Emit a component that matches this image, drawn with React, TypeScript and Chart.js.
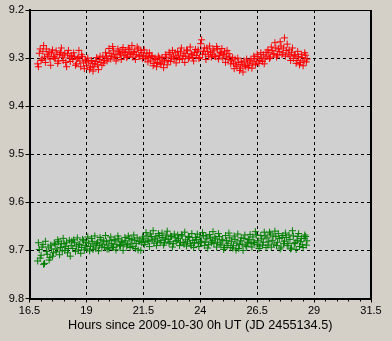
import React, { useEffect, useRef } from "react";
import { Chart, registerables } from "chart.js";

Chart.register(...registerables);

const times = [
  16.86, 16.93, 17.01, 17.09, 17.16, 17.24, 17.32, 17.40, 17.47, 17.55,
  17.63, 17.71, 17.78, 17.86, 17.94, 18.02, 18.09, 18.17, 18.25, 18.33,
  18.40, 18.48, 18.56, 18.64, 18.71, 18.79, 18.87, 18.95, 19.02, 19.10,
  19.18, 19.26, 19.33, 19.41, 19.49, 19.57, 19.64, 19.72, 19.80, 19.88,
  19.95, 20.03, 20.11, 20.19, 20.26, 20.34, 20.42, 20.50, 20.57, 20.65,
  20.73, 20.81, 20.88, 20.96, 21.04, 21.12, 21.19, 21.27, 21.35, 21.43,
  21.50, 21.58, 21.66, 21.74, 21.81, 21.89, 21.97, 22.05, 22.12, 22.20,
  22.28, 22.36, 22.43, 22.51, 22.59, 22.67, 22.74, 22.82, 22.90, 22.98,
  23.05, 23.13, 23.21, 23.29, 23.36, 23.44, 23.52, 23.60, 23.67, 23.75,
  23.83, 23.91, 23.98, 24.06, 24.14, 24.22, 24.29, 24.37, 24.45, 24.53,
  24.60, 24.68, 24.76, 24.84, 24.91, 24.99, 25.07, 25.15, 25.22, 25.30,
  25.38, 25.46, 25.53, 25.61, 25.69, 25.77, 25.84, 25.92, 26.00, 26.08,
  26.15, 26.23, 26.31, 26.39, 26.46, 26.54, 26.62, 26.70, 26.77, 26.85,
  26.93, 27.01, 27.08, 27.16, 27.24, 27.32, 27.39, 27.47, 27.55, 27.63,
  27.70, 27.78, 27.86, 27.94, 28.01, 28.09, 28.17, 28.25, 28.32, 28.40,
  28.48, 28.56, 28.63, 28.69,
];

const redMags = [
  9.312, 9.290, 9.305, 9.286, 9.298, 9.281, 9.296, 9.302, 9.289, 9.297,
  9.301, 9.292, 9.306, 9.288, 9.298, 9.294, 9.309, 9.291, 9.300, 9.295,
  9.303, 9.297, 9.312, 9.299, 9.306, 9.293, 9.310, 9.304, 9.316, 9.308,
  9.320, 9.311, 9.318, 9.307, 9.314, 9.303, 9.309, 9.298, 9.305, 9.296,
  9.301, 9.290, 9.296, 9.285, 9.293, 9.299, 9.287, 9.292, 9.283, 9.295,
  9.288, 9.296, 9.282, 9.291, 9.298, 9.286, 9.293, 9.281, 9.297, 9.289,
  9.294, 9.301, 9.290, 9.299, 9.306, 9.297, 9.311, 9.303, 9.309, 9.300,
  9.313, 9.304, 9.308, 9.298, 9.305, 9.292, 9.300, 9.296, 9.289, 9.299,
  9.294, 9.287, 9.301, 9.290, 9.296, 9.285, 9.298, 9.291, 9.299, 9.288,
  9.295, 9.283, 9.299, 9.262, 9.286, 9.292, 9.279, 9.296, 9.288, 9.293,
  9.285, 9.297, 9.281, 9.294, 9.290, 9.300, 9.287, 9.296, 9.303, 9.298,
  9.306, 9.311, 9.302, 9.317, 9.309, 9.321, 9.313, 9.306, 9.318, 9.310,
  9.315, 9.304, 9.312, 9.301, 9.308, 9.297, 9.305, 9.300, 9.293, 9.302,
  9.296, 9.288, 9.298, 9.284, 9.291, 9.279, 9.294, 9.286, 9.275, 9.289,
  9.258, 9.284, 9.292, 9.296, 9.288, 9.301, 9.293, 9.305, 9.297, 9.309,
  9.299, 9.306, 9.294, 9.302,
];

const greenMags = [
  9.722, 9.698, 9.710, 9.688, 9.727, 9.702, 9.693, 9.715, 9.697, 9.705,
  9.688, 9.697, 9.682, 9.694, 9.701, 9.686, 9.692, 9.705, 9.679, 9.690,
  9.696, 9.684, 9.691, 9.699, 9.687, 9.694, 9.680, 9.690, 9.697, 9.685,
  9.692, 9.681, 9.689, 9.695, 9.683, 9.690, 9.678, 9.687, 9.694, 9.682,
  9.689, 9.679, 9.686, 9.693, 9.680, 9.688, 9.676, 9.691, 9.683, 9.687,
  9.680, 9.688, 9.675, 9.685, 9.692, 9.679, 9.686, 9.699, 9.681, 9.684,
  9.676, 9.683, 9.670, 9.680, 9.666, 9.678, 9.685, 9.672, 9.681, 9.669,
  9.679, 9.673, 9.684, 9.668, 9.677, 9.682, 9.671, 9.686, 9.674, 9.679,
  9.675, 9.683, 9.670, 9.687, 9.678, 9.682, 9.673, 9.690, 9.679, 9.684,
  9.677, 9.685, 9.672, 9.681, 9.669, 9.683, 9.676, 9.688, 9.674, 9.680,
  9.686, 9.676, 9.683, 9.671, 9.689, 9.679, 9.694, 9.680, 9.685, 9.674,
  9.681, 9.690, 9.677, 9.685, 9.696, 9.680, 9.687, 9.675, 9.689, 9.683,
  9.678, 9.686, 9.672, 9.684, 9.668, 9.680, 9.691, 9.676, 9.683, 9.670,
  9.674, 9.682, 9.666, 9.679, 9.687, 9.671, 9.683, 9.675, 9.693, 9.669,
  9.681, 9.673, 9.686, 9.677, 9.695, 9.670, 9.684, 9.679, 9.665, 9.682,
  9.688, 9.675, 9.671, 9.680,
];

const times2 = [
  16.89, 16.97, 17.05, 17.12, 17.20, 17.28, 17.36, 17.43, 17.51, 17.59,
  17.67, 17.74, 17.82, 17.90, 17.98, 18.05, 18.13, 18.21, 18.29, 18.36,
  18.44, 18.52, 18.60, 18.67, 18.75, 18.83, 18.91, 18.98, 19.06, 19.14,
  19.22, 19.29, 19.37, 19.45, 19.53, 19.60, 19.68, 19.76, 19.84, 19.91,
  19.99, 20.07, 20.15, 20.22, 20.30, 20.38, 20.46, 20.53, 20.61, 20.69,
  20.77, 20.84, 20.92, 21.00, 21.08, 21.15, 21.23, 21.31, 21.39, 21.46,
  21.54, 21.62, 21.70, 21.77, 21.85, 21.93, 22.01, 22.08, 22.16, 22.24,
  22.32, 22.39, 22.47, 22.55, 22.63, 22.70, 22.78, 22.86, 22.94, 23.01,
  23.09, 23.17, 23.25, 23.32, 23.40, 23.48, 23.56, 23.63, 23.71, 23.79,
  23.87, 23.94, 24.02, 24.10, 24.18, 24.25, 24.33, 24.41, 24.49, 24.56,
  24.64, 24.72, 24.80, 24.87, 24.95, 25.03, 25.11, 25.18, 25.26, 25.34,
  25.42, 25.49, 25.57, 25.65, 25.73, 25.80, 25.88, 25.96, 26.04, 26.11,
  26.19, 26.27, 26.35, 26.42, 26.50, 26.58, 26.66, 26.73, 26.81, 26.89,
  26.97, 27.04, 27.12, 27.20, 27.28, 27.35, 27.43, 27.51, 27.59, 27.66,
  27.74, 27.82, 27.90, 27.97, 28.05, 28.13, 28.21, 28.28, 28.36, 28.44,
  28.52, 28.59, 28.66,
];

const redMags2 = [
  9.318, 9.281, 9.302, 9.274, 9.309, 9.292, 9.287, 9.315, 9.283, 9.300,
  9.285, 9.311, 9.293, 9.279, 9.305, 9.290, 9.318, 9.284, 9.307, 9.296,
  9.289, 9.315, 9.301, 9.284, 9.318, 9.297, 9.322, 9.306, 9.300, 9.324,
  9.305, 9.327, 9.312, 9.299, 9.324, 9.296, 9.315, 9.310, 9.289, 9.306,
  9.280, 9.302, 9.276, 9.298, 9.306, 9.281, 9.290, 9.303, 9.278, 9.287,
  9.299, 9.279, 9.292, 9.274, 9.288, 9.303, 9.277, 9.295, 9.284, 9.301,
  9.283, 9.297, 9.308, 9.289, 9.295, 9.316, 9.300, 9.318, 9.296, 9.311,
  9.299, 9.320, 9.293, 9.314, 9.288, 9.307, 9.284, 9.302, 9.310, 9.286,
  9.303, 9.279, 9.296, 9.309, 9.283, 9.301, 9.277, 9.293, 9.306, 9.282,
  9.287, 9.301, 9.270, 9.292, 9.279, 9.303, 9.286, 9.275, 9.298, 9.281,
  9.296, 9.276, 9.302, 9.288, 9.280, 9.293, 9.309, 9.284, 9.291, 9.312,
  9.299, 9.322, 9.314, 9.300, 9.326, 9.308, 9.329, 9.316, 9.302, 9.320,
  9.306, 9.321, 9.296, 9.314, 9.292, 9.311, 9.289, 9.307, 9.312, 9.288,
  9.283, 9.301, 9.277, 9.292, 9.268, 9.298, 9.281, 9.266, 9.293, 9.279,
  9.296, 9.271, 9.283, 9.305, 9.279, 9.294, 9.311, 9.286, 9.314, 9.292,
  9.316, 9.289, 9.308,
];

const greenMags2 = [
  9.684, 9.716, 9.693, 9.729, 9.681, 9.708, 9.720, 9.689, 9.712, 9.685,
  9.703, 9.678, 9.709, 9.686, 9.675, 9.700, 9.683, 9.696, 9.712, 9.681,
  9.678, 9.702, 9.674, 9.688, 9.706, 9.677, 9.699, 9.683, 9.672, 9.701,
  9.675, 9.698, 9.670, 9.686, 9.701, 9.673, 9.693, 9.680, 9.669, 9.697,
  9.697, 9.672, 9.694, 9.677, 9.699, 9.670, 9.690, 9.681, 9.700, 9.673,
  9.691, 9.670, 9.694, 9.677, 9.668, 9.696, 9.674, 9.681, 9.700, 9.672,
  9.688, 9.663, 9.681, 9.692, 9.671, 9.659, 9.676, 9.690, 9.665, 9.684,
  9.664, 9.689, 9.676, 9.660, 9.685, 9.670, 9.693, 9.666, 9.681, 9.668,
  9.690, 9.667, 9.684, 9.662, 9.691, 9.671, 9.686, 9.665, 9.694, 9.673,
  9.666, 9.692, 9.683, 9.663, 9.690, 9.670, 9.695, 9.667, 9.684, 9.661,
  9.672, 9.693, 9.665, 9.687, 9.678, 9.698, 9.669, 9.690, 9.664, 9.694,
  9.695, 9.670, 9.699, 9.666, 9.688, 9.674, 9.700, 9.668, 9.692, 9.677,
  9.667, 9.693, 9.683, 9.661, 9.688, 9.696, 9.669, 9.689, 9.662, 9.694,
  9.689, 9.662, 9.693, 9.670, 9.660, 9.690, 9.665, 9.697, 9.673, 9.686,
  9.664, 9.690, 9.668, 9.697, 9.659, 9.686, 9.698, 9.671, 9.692, 9.675,
  9.694, 9.668, 9.689,
];

const xMin = 16.5;
const xMax = 31.5;
const xStep = 2.5;
const xMinorStep = 0.5;
const yMin = 9.2;
const yMax = 9.8;
const yStep = 0.1;
const xTitle = "Hours since 2009-10-30 0h UT (JD 2455134.5)";

const FONT = "'Liberation Sans', Arial, sans-serif";

const framePlugin = {
  id: "frame",
  beforeDraw(chart: any) {
    const { ctx, chartArea: a } = chart;
    ctx.save();
    ctx.fillStyle = "#d4d0c8";
    ctx.fillRect(0, 0, chart.width, chart.height);
    ctx.fillStyle = "#d0d0d0";
    ctx.fillRect(a.left, a.top, a.right - a.left, a.bottom - a.top);
    ctx.restore();
  },
  afterDraw(chart: any) {
    const { ctx, chartArea: a } = chart;
    const xs = chart.scales.x;
    ctx.save();
    ctx.strokeStyle = "#000";
    ctx.lineWidth = 2;
    ctx.beginPath();
    ctx.moveTo(a.right, a.top);
    ctx.lineTo(a.right, a.bottom + 1);
    ctx.stroke();
    ctx.lineWidth = 1;
    ctx.beginPath();
    ctx.moveTo(a.left, a.top + 0.5);
    ctx.lineTo(a.right, a.top + 0.5);
    ctx.stroke();
    ctx.lineWidth = 1;
    ctx.beginPath();
    for (let v = xMin + xMinorStep; v < xMax - 1e-6; v += xMinorStep) {
      const r = (v - xMin) / xStep;
      if (Math.abs(r - Math.round(r)) < 1e-6) continue;
      const px = Math.round(xs.getPixelForValue(v)) + 0.5;
      ctx.moveTo(px, a.bottom);
      ctx.lineTo(px, a.bottom + 3);
    }
    ctx.stroke();
    ctx.restore();
  },
};

function pts(ts: number[], ms: number[]) {
  return ts.map((t, i) => ({ x: t, y: ms[i] }));
}

export default function App() {
  const ref = useRef<HTMLCanvasElement | null>(null);
  useEffect(() => {
    document.body.style.margin = "0";
    const chart = new Chart(ref.current!, {
      type: "scatter",
      data: {
        datasets: [
          {
            data: pts(times, redMags).concat(pts(times2, redMags2)),
            pointStyle: "cross",
            pointRadius: 3.5,
            borderWidth: 1,
            borderColor: "#ff0000",
            backgroundColor: "#ff0000",
          },
          {
            data: pts(times, greenMags).concat(pts(times2, greenMags2)),
            pointStyle: "cross",
            pointRadius: 3.5,
            borderWidth: 1,
            borderColor: "#008000",
            backgroundColor: "#008000",
          },
        ],
      },
      options: {
        animation: false,
        responsive: false,
        layout: { padding: { left: 0, right: 21, top: 10, bottom: 0 } },
        plugins: { legend: { display: false }, tooltip: { enabled: false } },
        scales: {
          x: {
            type: "linear",
            min: xMin,
            max: xMax,
            afterFit: (s: any) => {
              s.height = 42.5;
            },
            ticks: {
              stepSize: xStep,
              color: "#000",
              font: { family: FONT, size: 11 },
              padding: 2,
              maxRotation: 0,
              callback: (v: any) => String(Number(Number(v).toFixed(1))),
            },
            grid: {
              color: "#000",
              lineWidth: 1,
              tickLength: 4,
              tickColor: "#000",
              tickWidth: 1,
            },
            border: { display: true, color: "#000", width: 2, dash: [3, 3] },
            title: {
              display: true,
              text: xTitle,
              color: "#000",
              font: { family: FONT, size: 12.7 },
              padding: { top: 0, bottom: 8 },
            },
          },
          y: {
            type: "linear",
            reverse: true,
            min: yMin,
            max: yMax,
            afterFit: (s: any) => {
              s.width = 29.5;
            },
            ticks: {
              stepSize: yStep,
              color: "#000",
              font: { family: FONT, size: 11 },
              padding: 1.5,
              callback: (v: any) => Number(v).toFixed(1),
            },
            grid: {
              color: "#000",
              lineWidth: 1,
              tickLength: 4,
              tickColor: "#000",
              tickWidth: 1,
            },
            border: { display: true, color: "#000", width: 2, dash: [3, 3] },
          },
        },
      },
      plugins: [framePlugin],
    } as any);
    return () => chart.destroy();
  }, []);
  return (
    <div style={{ width: 392, height: 341, background: "#d4d0c8" }}>
      <canvas ref={ref} width={392} height={341} style={{ display: "block" }} />
    </div>
  );
}
